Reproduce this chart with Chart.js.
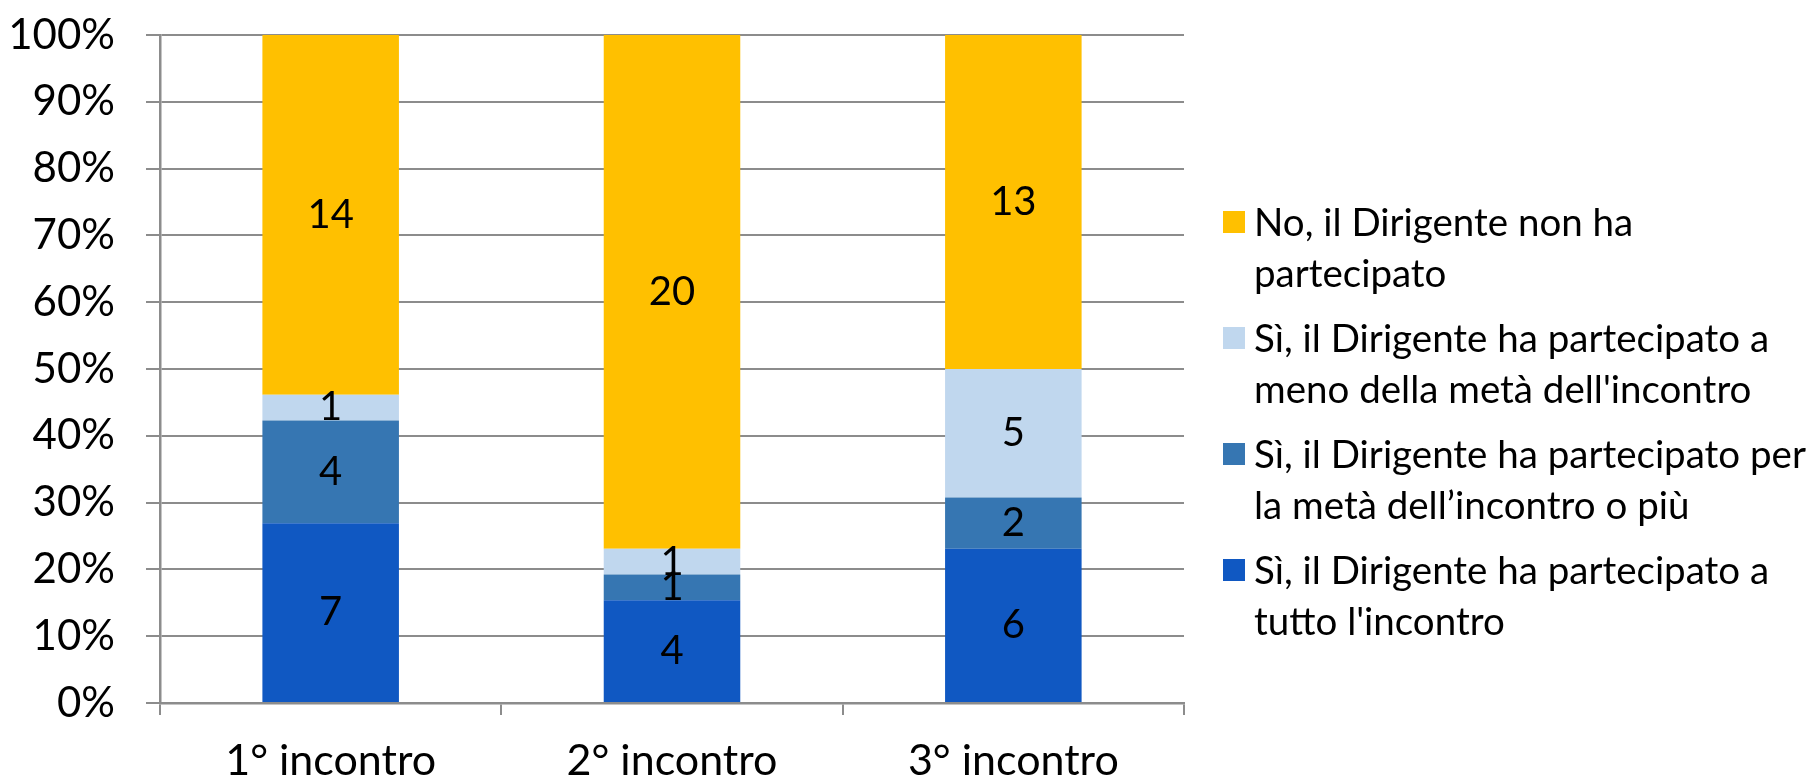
<!DOCTYPE html>
<html>
<head>
<meta charset="utf-8">
<script src="https://cdn.jsdelivr.net/npm/chart.js@4"></script>
<style>
  body { margin: 0; background: #fff; }
  #wrap { position: relative; width: 1813px; height: 780px; }
  #legenda { position: absolute; left: 1223px; top: 196px; font-family: Lato, sans-serif; font-size: 38.5px; color: #000; }
  .voce { display: flex; align-items: flex-start; margin-bottom: 14px; }
  .quadrato { width: 22px; height: 22px; margin-top: 15px; margin-right: 9px; flex: none; }
  .testo { line-height: 51px; white-space: nowrap; }
</style>
</head>
<body>
<div id="wrap">
  <canvas id="grafico" width="1813" height="780"></canvas>
  <div id="legenda"></div>
</div>
<script>
const categorie = ['1° incontro', '2° incontro', '3° incontro'];
const tuttoIncontro = [7, 4, 6];
const metaOPiu = [4, 1, 2];
const menoMeta = [1, 1, 5];
const nonPartecipato = [14, 20, 13];
const tickY = [0, 10, 20, 30, 40, 50, 60, 70, 80, 90, 100];

const serie = [
  { nome: ['Sì, il Dirigente ha partecipato a', 'tutto l\'incontro'], valori: tuttoIncontro, colore: '#1058c2' },
  { nome: ['Sì, il Dirigente ha partecipato per', 'la metà dell’incontro o più'], valori: metaOPiu, colore: '#3676b2' },
  { nome: ['Sì, il Dirigente ha partecipato a', 'meno della metà dell\'incontro'], valori: menoMeta, colore: '#c0d7ee' },
  { nome: ['No, il Dirigente non ha', 'partecipato'], valori: nonPartecipato, colore: '#ffc000' }
];

// totale per incontro, per il grafico al 100%
const totali = categorie.map((c, j) => serie.reduce((s, d) => s + d.valori[j], 0));

const etichetteValori = {
  id: 'etichetteValori',
  afterDatasetsDraw(chart) {
    const ctx = chart.ctx;
    ctx.save();
    ctx.font = '40px Lato';
    ctx.fillStyle = '#000';
    ctx.textAlign = 'center';
    ctx.textBaseline = 'middle';
    chart.data.datasets.forEach((ds, i) => {
      chart.getDatasetMeta(i).data.forEach((bar, j) => {
        const p = bar.getCenterPoint();
        ctx.fillText(ds.conteggi[j], p.x, p.y);
      });
    });
    ctx.restore();
  }
};

const grigio = '#8c8c8c';

new Chart(document.getElementById('grafico').getContext('2d'), {
  type: 'bar',
  data: {
    labels: categorie,
    datasets: serie.map(s => ({
      label: s.nome.join(' '),
      data: s.valori.map((v, j) => v / totali[j] * 100),
      conteggi: s.valori,
      backgroundColor: s.colore,
      borderWidth: 0,
      barPercentage: 0.4,
      categoryPercentage: 1
    }))
  },
  options: {
    responsive: false,
    animation: false,
    devicePixelRatio: 1,
    layout: { padding: { top: 35, right: 629, left: 0, bottom: 0 } },
    plugins: { legend: { display: false }, tooltip: { enabled: false } },
    scales: {
      x: {
        stacked: true,
        grid: { drawOnChartArea: false, drawTicks: true, tickLength: 12, color: grigio, lineWidth: 2 },
        border: { color: grigio, width: 2.5 },
        ticks: { color: '#000', font: { family: 'Lato', size: 43 }, padding: 20 },
        afterFit(scale) { scale.height = 77; scale.paddingLeft = 0; scale.paddingRight = 0; }
      },
      y: {
        stacked: true,
        min: 0,
        max: 100,
        afterBuildTicks(scale) { scale.ticks = tickY.map(v => ({ value: v })); },
        grid: { color: grigio, lineWidth: 2, tickLength: 14 },
        border: { color: grigio, width: 2.5 },
        ticks: { color: '#000', font: { family: 'Lato', size: 42 }, padding: 31, callback: v => v + '%' },
        afterFit(scale) { scale.width = 160; scale.paddingTop = 0; scale.paddingBottom = 0; }
      }
    }
  },
  plugins: [etichetteValori]
});

// legenda a destra, in ordine inverso rispetto all'impilamento
const legenda = document.getElementById('legenda');
serie.slice().reverse().forEach(s => {
  const voce = document.createElement('div');
  voce.className = 'voce';
  const q = document.createElement('div');
  q.className = 'quadrato';
  q.style.background = s.colore;
  const t = document.createElement('div');
  t.className = 'testo';
  t.innerHTML = s.nome.join('<br>');
  voce.appendChild(q);
  voce.appendChild(t);
  legenda.appendChild(voce);
});
</script>
</body>
</html>
